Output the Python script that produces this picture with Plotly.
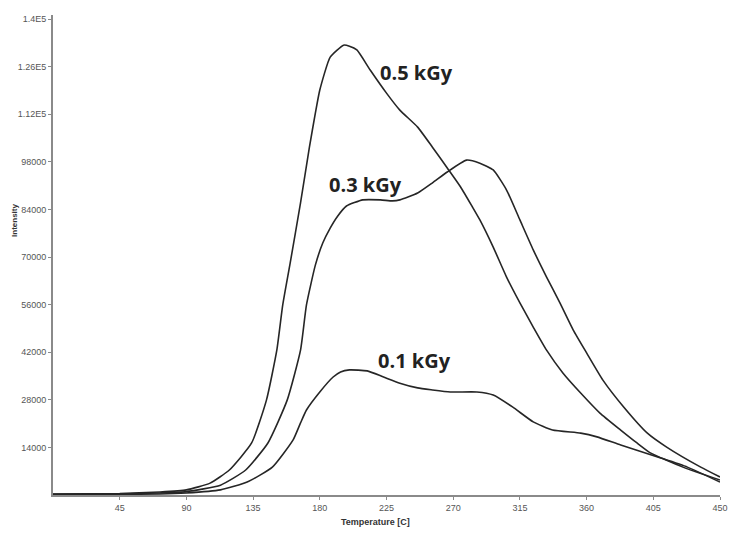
import plotly.graph_objects as go

# Temperature [C] and intensity values
x_05 = [0, 45, 72, 90, 106, 119, 134, 144, 151, 155, 160, 167, 173, 177, 180, 187, 196, 200, 205, 214, 225, 234, 246, 256, 266, 275, 283, 288, 297, 306, 315, 324, 333, 344, 356, 369, 383, 394, 403, 425, 450]
y_05 = [300, 450, 900, 1500, 3500, 7350, 15300, 27900, 42600, 55900, 68200, 85900, 102300, 112300, 119100, 128800, 132300, 132000, 130900, 125000, 118200, 113200, 108200, 102300, 96200, 90600, 84700, 80900, 72900, 64100, 56500, 49400, 42600, 35900, 30000, 24100, 19100, 15300, 12400, 8200, 4400]

x_03 = [0, 45, 72, 90, 113, 130, 145, 158, 167, 171, 177, 182, 187, 192, 198, 209, 221, 229, 234, 246, 256, 266, 279, 288, 297, 306, 315, 324, 333, 342, 351, 360, 371, 385, 401, 414, 437, 450]
y_03 = [200, 300, 600, 1000, 2900, 7350, 15300, 27900, 42600, 55900, 67600, 74100, 78500, 82000, 85000, 86800, 86800, 86500, 86800, 88800, 91800, 95000, 98500, 97600, 95600, 89700, 80900, 72100, 64100, 56500, 48500, 41800, 33800, 25900, 18200, 14100, 8200, 5300]

x_01 = [0, 45, 72, 90, 113, 131, 148, 162, 167, 171, 180, 189, 194, 200, 212, 223, 234, 246, 256, 268, 286, 297, 310, 324, 337, 356, 367, 383, 410, 428, 450]
y_01 = [100, 200, 300, 600, 1500, 3800, 8200, 16200, 21200, 25000, 30300, 34700, 36200, 36800, 36500, 34700, 32900, 31500, 30900, 30300, 30300, 29400, 25900, 21500, 19100, 18200, 17100, 14700, 10900, 8200, 3800]

x_ticks = [45, 90, 135, 180, 225, 270, 315, 360, 405, 450]
y_ticks = [14000, 28000, 42000, 56000, 70000, 84000, 98000, 112000, 126000, 140000]
y_tick_text = ["14000", "28000", "42000", "56000", "70000", "84000", "98000", "1.12E5", "1.26E5", "1.4E5"]

labels = [("0.5 kGy", 245, 124400), ("0.3 kGy", 211, 91200), ("0.1 kGy", 244, 39700)]

fig = go.Figure()
for xs, ys in [(x_05, y_05), (x_03, y_03), (x_01, y_01)]:
    fig.add_trace(go.Scatter(x=xs, y=ys, mode="lines",
                             line=dict(color="#262626", width=1.6, shape="spline", smoothing=0.5),
                             showlegend=False, hoverinfo="skip"))

for text, lx, ly in labels:
    fig.add_annotation(x=lx, y=ly, text="<b>%s</b>" % text, showarrow=False,
                       font=dict(family="Open Sans", size=20, color="#222"),
                       xanchor="center", yanchor="middle")

fig.add_annotation(xref="paper", yref="paper", x=0.484, y=-0.056, text="<b>Temperature [C]</b>",
                   showarrow=False, font=dict(family="Liberation Sans", size=9, color="#333"),
                   xanchor="center", yanchor="middle")
fig.add_annotation(xref="paper", yref="paper", x=-0.057, y=0.573, text="<b>Intensity</b>",
                   textangle=-90, showarrow=False,
                   font=dict(family="Liberation Sans", size=8, color="#333"),
                   xanchor="center", yanchor="middle")

# page body has an 8px default margin, so the figure is sized to fit inside it
fig.update_layout(
    width=720, height=521,
    margin=dict(l=45, r=8, t=7, b=34, autoexpand=False),
    paper_bgcolor="white", plot_bgcolor="white",
    font=dict(family="Liberation Sans", size=9, color="#555"),
    xaxis=dict(range=[0, 450], tickvals=x_ticks, ticktext=[str(v) for v in x_ticks],
               automargin=False,
               showgrid=False, zeroline=False, showline=True, linecolor="#8a8a8a", linewidth=2,
               ticks="outside", ticklen=3, tickcolor="#8a8a8a", tickfont=dict(size=9, color="#555")),
    yaxis=dict(range=[0, 141176], tickvals=y_ticks, ticktext=y_tick_text,
               automargin=False,
               showgrid=False, zeroline=False, showline=True, linecolor="#8a8a8a", linewidth=2,
               ticks="outside", ticklen=3, tickcolor="#8a8a8a", tickfont=dict(size=9, color="#555")),
)

fig.write_html("out.html")
